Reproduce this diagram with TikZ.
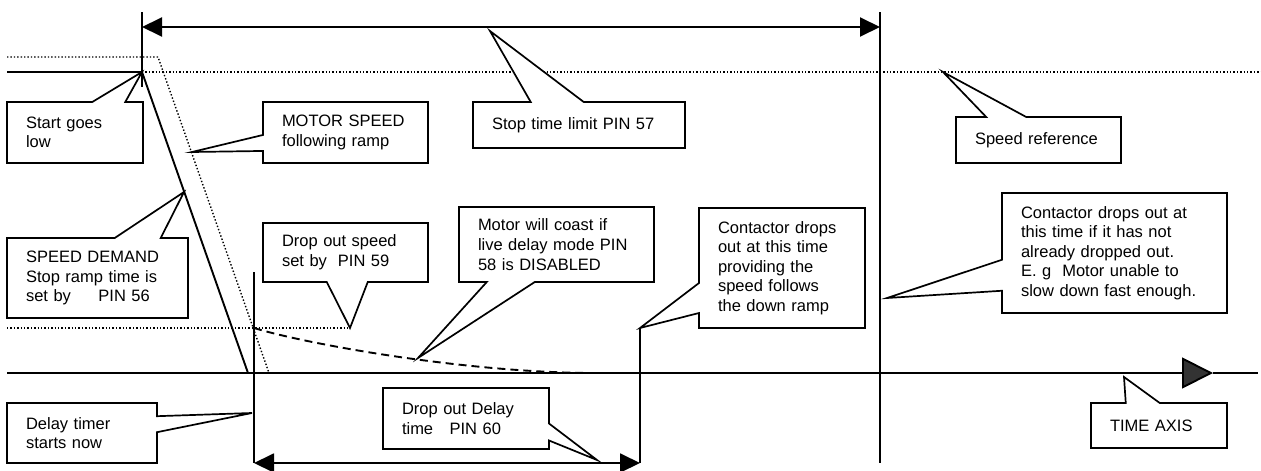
\documentclass[tikz,border=0pt]{standalone}
\usepackage{fontspec}
\setmainfont{Liberation Sans}
\usetikzlibrary{arrows.meta, shapes.callouts}

\begin{document}
\begin{tikzpicture}[
    x=1pt, y=-1pt,
    note/.style={
      rectangle callout,
      draw=black,
      fill=white,
      line width=1.7pt,
      align=left,
      inner xsep=19pt,
      inner ysep=2pt,
      font=\fontsize{16.5}{19.6}\selectfont
    },
    signal/.style={line width=1.9pt},
    level/.style={line width=1.4pt, dash pattern=on 1.4pt off 2pt},
    coast/.style={line width=1.9pt, dash pattern=on 8pt off 5pt},
    span arrow/.style={
      {Triangle[length=20pt,width=19pt]}-{Triangle[length=20pt,width=19pt]},
      line width=1.9pt
    },
    axis arrow/.style={
      -{Triangle[length=31pt,width=31pt,fill=black!80]},
      line width=1.9pt
    }
  ]

    \useasboundingbox (0,0) rectangle (1261,471);

    % time markers and levels
    \coordinate (start top) at (142,12);
    \coordinate (start) at (142,72);
    \coordinate (start bot) at (142,87);
    \coordinate (limit top) at (880,12);
    \coordinate (limit bot) at (880,463);
    \coordinate (drop top) at (254,272);
    \coordinate (drop bot) at (254,463);
    \coordinate (cont top) at (640,328);
    \coordinate (cont bot) at (640,463);
    \coordinate (span0) at (142,27);
    \coordinate (span1) at (880,27);
    \coordinate (dly0) at (254,463);
    \coordinate (dly1) at (640,463);
    \coordinate (run0) at (7,72);
    \coordinate (demand end) at (248,373);
    \coordinate (ramp0) at (7,57);
    \coordinate (ramp1) at (158,57);
    \coordinate (ramp end) at (269,373);
    \coordinate (ref1) at (1261,72);
    \coordinate (lvl0) at (7,328);
    \coordinate (lvl1) at (350,328);
    \coordinate (coast0) at (254,328);
    \coordinate (coast1) at (595,373);
    \coordinate (ax0) at (7,373);
    \coordinate (axm) at (1213,373);
    \coordinate (ax1) at (1258,373);

    % pointer tips
    \coordinate (motor tip) at (192,152);
    \coordinate (limit tip) at (490,31);
    \coordinate (ref tip) at (943,72);
    \coordinate (demand tip) at (184,192);
    \coordinate (coast tip) at (418,358);
    \coordinate (fail tip) at (887,298);
    \coordinate (delay tip) at (252,413);
    \coordinate (dodelay tip) at (597,460);
    \coordinate (axis tip) at (1124,377);

    \draw[signal] (start top) -- (start bot);
    \draw[signal] (limit top) -- (limit bot);
    \draw[signal] (drop top) -- (drop bot);
    \draw[signal] (cont top) -- (cont bot);

    \draw[span arrow] (span0) -- (span1);
    \draw[span arrow] (dly0) -- (dly1);

    \draw[signal] (run0) -- (start) -- (demand end);
    \draw[level] (ramp0) -- (ramp1) -- (ramp end);
    \draw[level] (start) -- (ref1);
    \draw[level] (lvl0) -- (lvl1);
    \draw[coast] (coast0) .. controls (310,345) and (470,373) .. (coast1);

    \draw[axis arrow] (ax0) -- (axm);
    \draw[signal] (axm) -- (ax1);

    % callouts
    \node[note, text width=98pt, minimum height=61pt,
      callout absolute pointer={(start)}, callout pointer width=33pt]
      (start note) at (75,132.5) {Start goes\\low};
    \node[note, text width=127pt, minimum height=61pt,
      callout absolute pointer={(motor tip)}, callout pointer width=16pt]
      (motor note) at (345.5,132.5) {MOTOR SPEED\\following ramp};
    \node[note, text width=174pt, minimum height=46pt,
      callout absolute pointer={(limit tip)}, callout pointer width=53pt]
      (limit note) at (579,125) {Stop time limit PIN 57};
    \node[note, text width=127pt, minimum height=46pt,
      callout absolute pointer={(ref tip)}, callout pointer width=40pt]
      (ref note) at (1038.5,140) {Speed reference};
    \node[note, text width=143pt, minimum height=80pt,
      callout absolute pointer={(demand tip)}, callout pointer width=46pt]
      (demand note) at (97.5,278) {SPEED DEMAND\\Stop ramp time is\\set by~~~~~PIN 56};
    \node[note, text width=127pt, minimum height=59pt,
      callout absolute pointer={(lvl1)}, callout pointer width=41pt]
      (speed note) at (345.5,252.5) {Drop out speed\\set by~~PIN 59};
    \node[note, text width=157pt, minimum height=75pt,
      callout absolute pointer={(coast tip)}, callout pointer width=48pt]
      (coast note) at (556.5,244.5) {Motor will coast if\\live delay mode PIN\\58 is DISABLED};
    \node[note, text width=128pt, minimum height=120pt,
      callout absolute pointer={(cont top)}, callout pointer width=30pt]
      (contact note) at (782,268) {Contactor drops\\out at this time\\providing the\\speed follows\\the down ramp};
    \node[note, text width=187pt, minimum height=120pt,
      callout absolute pointer={(fail tip)}, callout pointer width=31pt]
      (fail note) at (1114.5,253) {Contactor drops out at\\this time if it has not\\already dropped out.\\E. g~~Motor unable to\\slow down fast enough.};
    \node[note, text width=112pt, minimum height=60pt,
      callout absolute pointer={(delay tip)}, callout pointer width=16pt]
      (delay note) at (82,433) {Delay timer\\starts now};
    \node[note, text width=128pt, minimum height=61pt,
      callout absolute pointer={(dodelay tip)}, callout pointer width=17pt]
      (dodelay note) at (466,418.5) {Drop out Delay\\time~~~PIN 60};
    \node[note, text width=98pt, minimum height=45pt,
      callout absolute pointer={(axis tip)}, callout pointer width=34pt]
      (axis note) at (1159,425.5) {TIME AXIS};

  \end{tikzpicture}
\end{document}
